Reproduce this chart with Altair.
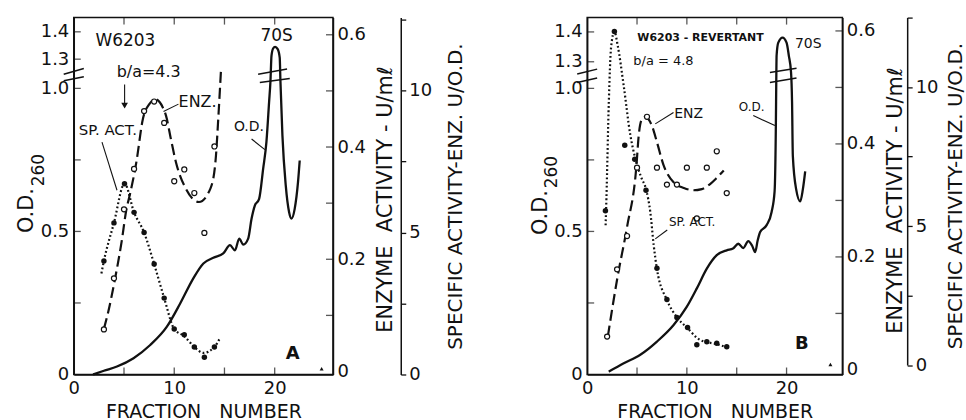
import altair as alt
import pandas as pd

FONT = "DejaVu Sans"
INK = "#111111"
H = 358
NB = "\u00a0"

# ================= Panel A : W6203 =================
a_od_f = [1.92, 3.0, 4.3, 5.95, 7.61, 9.27, 10.59, 11.9, 12.9, 13.89, 14.88, 15.55, 16.04, 16.47,
          16.87, 17.36, 17.7, 18.03, 18.45, 18.85, 19.18, 19.44, 19.58, 19.68, 19.84, 20.04, 20.3,
          20.5, 20.57, 20.77, 21.1, 21.43, 21.67, 21.99, 22.32, 22.49]
a_od_v = [0.0, 0.013, 0.028, 0.057, 0.103, 0.167, 0.248, 0.336, 0.388, 0.408, 0.423, 0.452, 0.434,
          0.475, 0.454, 0.475, 0.545, 0.591, 0.614, 0.719, 0.814, 0.951, 1.079, 1.312, 1.339, 1.345,
          1.337, 1.306, 1.079, 0.835, 0.661, 0.568, 0.545, 0.579, 0.672, 0.748]

a_enz_pf = [3, 4, 5, 6, 7, 8, 9, 10, 11, 12, 13, 14]
a_enz_pv = [0.075, 0.166, 0.289, 0.361, 0.464, 0.481, 0.443, 0.339, 0.36, 0.318, 0.247, 0.401]
a_enz_cf = [3.0, 3.44, 4.05, 4.76, 5.25, 5.57, 6.23, 6.88, 7.54, 8.1, 8.85, 9.18, 9.67, 10.17,
            11.15, 12.46, 13.6, 14.1, 14.42, 14.65]
a_enz_cv = [0.076, 0.107, 0.16, 0.231, 0.29, 0.314, 0.373, 0.45, 0.477, 0.485, 0.471, 0.456, 0.414,
            0.373, 0.326, 0.302, 0.326, 0.373, 0.462, 0.536]

a_sp_pf = [3, 4, 5.05, 6, 7, 8, 9, 10, 11, 12, 13, 14]
a_sp_pv = [4.0, 5.34, 6.72, 5.71, 5.0, 3.89, 2.69, 1.6, 1.40, 0.97, 0.61, 0.97]
a_sp_cf = [2.75, 3.0, 4.0, 5.05, 6.0, 7.0, 8.0, 9.0, 10.0, 11.0, 12.0, 12.9, 14.0, 14.55]
a_sp_cv = [3.56, 4.0, 5.34, 6.72, 5.71, 5.0, 3.89, 2.69, 1.6, 1.35, 0.97, 0.76, 0.97, 1.28]

a_labels = ["W6203", "b/a=4.3", "70S", "ENZ.", "SP. ACT.", "O.D.", "A"]
a_label_f = [5.13, 7.46, 20.2, 12.32, 3.39, 17.43, 21.8]
a_label_v = [1.368, 1.164, 1.386, 0.951, 0.853, 0.864, 0.073]

a_lead_f1 = [10.42, 2.81, 17.7, 5.06]
a_lead_v1 = [0.945, 0.812, 0.823, 1.041]
a_lead_f2 = [8.93, 4.3, 19.02, 5.06]
a_lead_v2 = [0.919, 0.644, 0.786, 0.935]
a_head_f = [5.06]
a_head_v = [0.94]
a_end_f = [24.67]
a_end_v = [0.02]

a_brk_f1 = [-1.0, -1.0, 18.35, 18.52]
a_brk_f2 = [1.0, 1.0, 21.23, 21.5]
a_brk_v1 = [1.146, 1.079, 1.146, 1.061]
a_brk_v2 = [1.205, 1.12, 1.198, 1.102]

# ================= Panel B : W6203 - revertant =================
b_od_f = [2.17, 3.67, 5.33, 7.0, 8.67, 10.0, 11.0, 12.0, 13.0, 14.0, 14.63, 15.16, 15.66, 16.16,
          16.55, 16.85, 17.1, 17.35, 18.0, 18.5, 18.8, 18.93, 18.97, 19.0, 19.17, 19.6, 20.0, 20.23,
          20.45, 20.55, 20.63, 20.97, 21.37, 21.63, 21.87]
b_od_v = [0.01, 0.039, 0.069, 0.115, 0.173, 0.237, 0.301, 0.37, 0.417, 0.434, 0.44, 0.457, 0.442,
          0.466, 0.45, 0.428, 0.468, 0.498, 0.522, 0.568, 0.64, 0.88, 1.10, 1.32, 1.364, 1.381,
          1.364, 1.32, 1.18, 0.955, 0.764, 0.646, 0.605, 0.646, 0.71]

b_enz_pf = [2, 3, 4, 5, 6, 7, 8, 9, 10, 11, 12, 13, 14]
b_enz_pv = [0.059, 0.178, 0.237, 0.358, 0.448, 0.358, 0.328, 0.328, 0.358, 0.268, 0.358, 0.387, 0.313]
b_enz_cf = [2.07, 3.05, 4.0, 4.93, 5.17, 5.5, 5.83, 6.5, 7.0, 7.67, 8.67, 9.7, 10.67, 11.5, 12.33,
            13.0, 13.7]
b_enz_cv = [0.059, 0.165, 0.253, 0.359, 0.415, 0.444, 0.448, 0.432, 0.403, 0.362, 0.332, 0.322,
            0.318, 0.32, 0.329, 0.34, 0.353]

b_sp_pf = [1.83, 2.73, 3.77, 4.77, 5.9, 7.0, 8.0, 9.0, 10.07, 11.0, 12.0, 13.0, 14.0]
b_sp_pv = [5.55, 12.0, 7.91, 7.40, 6.29, 3.48, 2.36, 1.71, 1.35, 0.73, 0.84, 0.78, 0.66]
b_sp_cf = [1.85, 1.93, 2.17, 2.4, 2.73, 3.06, 3.66, 4.33, 4.83, 5.4, 5.93, 6.33, 6.67, 7.0, 8.0,
           9.0, 10.0, 11.33, 13.0, 14.0]
b_sp_cv = [5.03, 5.99, 9.46, 11.44, 12.0, 11.5, 10.06, 8.27, 7.43, 6.77, 6.29, 5.51, 4.32, 3.45,
           2.34, 1.72, 1.35, 0.9, 0.75, 0.64]

b_labels = ["W6203 - REVERTANT", "b/a = 4.8", "70S", "ENZ", "O.D.", "SP. ACT.", "B"]
b_label_f = [5.03, 4.63, 22.18, 10.18, 16.5, 10.53, 21.53]
b_label_v = [1.378, 1.304, 1.358, 0.909, 0.934, 0.533, 0.108]

b_lead_f1 = [8.66, 16.66, 8.03]
b_lead_v1 = [0.916, 0.905, 0.505]
b_lead_f2 = [6.83, 18.83, 6.83]
b_lead_v2 = [0.876, 0.870, 0.474]
b_head_f = []
b_head_v = []
b_end_f = [24.4]
b_end_v = [0.035]

b_brk_f1 = [-1.0, -1.0, 18.33, 18.33]
b_brk_f2 = [1.0, 1.0, 21.0, 21.0]
b_brk_v1 = [1.161, 1.067, 1.18, 1.067]
b_brk_v2 = [1.217, 1.116, 1.228, 1.116]

# axis tick values
od_labeled = [0, 0.5, 1.0, 1.3, 1.4]
od_inner_ticks = [0.25, 0.5, 0.75, 1.0, 1.3, 1.4]
x_labeled = [0, 10, 20]
x_inner_ticks = [5, 10, 15, 20]
enz_labeled = [0, 0.2, 0.4, 0.6]
enz_inner_ticks = [0.1, 0.2, 0.3, 0.4, 0.5, 0.6]
sp_ticks = [0, 2.5, 5, 7.5, 10, 12.5]

# label styles (size, weight, align)
STYLE_A = {"W6203": (17, "normal", "center"), "b/a=4.3": (16, "normal", "center"),
           "70S": (17, "normal", "center"), "ENZ.": (16, "normal", "center"),
           "SP. ACT.": (15, "normal", "center"), "O.D.": (14, "normal", "center"),
           "A": (18, "bold", "center")}
STYLE_B = {"W6203 - REVERTANT": (11, "bold", "left"), "b/a = 4.8": (13, "normal", "left"),
           "70S": (14, "normal", "center"), "ENZ": (14, "normal", "center"),
           "O.D.": (12, "normal", "center"), "SP. ACT.": (12, "normal", "center"),
           "B": (18, "bold", "center")}


def build(p):
    W = p["W"]

    def xs():
        return alt.Scale(domain=[0, p["xmax"]], nice=False, zero=False)

    def ods():
        return alt.Scale(domain=p["od_domain"], range=p["od_range"], nice=False, zero=False)

    def ens():
        return alt.Scale(domain=p["enz_domain"], nice=False, zero=False)

    def sps():
        return alt.Scale(domain=p["sp_domain"], range=p["sp_range"], nice=False, zero=False)

    def X(field="f", ax=None):
        # shared x axis: only the first layer defines it, the others leave it undefined
        if ax is None:
            return alt.X(f"{field}:Q", scale=xs())
        return alt.X(f"{field}:Q", scale=xs(), axis=ax)

    def YOD(ax=None, field="v"):
        return alt.Y(f"{field}:Q", scale=ods(), axis=ax)

    x_axis = alt.Axis(values=x_labeled, format="d", tickSize=0, labelPadding=5, labelFontSize=18,
                      labelFlush=False, title=f"FRACTION{NB}{NB}{NB}NUMBER", titleFontSize=19,
                      titleBaseline="alphabetic", titleY=43)
    od_axis = alt.Axis(values=od_labeled,
                       labelExpr="datum.value == 0 ? '0' : format(datum.value, '.1f')",
                       tickSize=0, labelPadding=5, labelFontSize=18, title="O.D.",
                       titleFontSize=21, titleAngle=270, titleX=-37, titleY=p["od_title_y"],
                       titleBaseline="bottom", titleAlign="center")
    enz_axis = alt.Axis(orient="right", values=enz_labeled,
                        labelExpr="datum.value == 0 ? '0' : format(datum.value, '.1f')",
                        tickSize=0, labelPadding=4, labelFontSize=18,
                        title=f"ENZYME{NB}{NB}ACTIVITY{NB}-{NB}U/m\u2113", titleFontSize=21,
                        titleAngle=270, titleX=63, titleY=p["enz_title_y"],
                        titleBaseline="bottom", titleAlign="center")
    sp_axis = alt.Axis(orient="right", offset=p["sp_offset"], values=sp_ticks,
                       labelExpr="(datum.value == 0 || datum.value == 5 || datum.value == 10) ? format(datum.value, 'd') : ''",
                       tickSize=5, labelPadding=3, labelFontSize=18,
                       title="SPECIFIC ACTIVITY-ENZ. U/O.D.", titleFontSize=20, titleAngle=270,
                       titleX=p["sp_title_x"], titleY=p["sp_title_y"], titleBaseline="bottom",
                       titleAlign="center")

    layers = []
    # O.D. profile (carries x axis and left axis)
    layers.append(alt.Chart(pd.DataFrame({"f": p["od_f"], "v": p["od_v"]})).mark_line(
        color=INK, strokeWidth=2.3, interpolate="monotone").encode(
        x=X(ax=x_axis), y=YOD(od_axis)))
    # enzyme curve (right axis)
    layers.append(alt.Chart(pd.DataFrame({"f": p["enz_cf"], "v": p["enz_cv"]})).mark_line(
        color=INK, strokeWidth=2.2, strokeDash=[11, 5], interpolate="monotone").encode(
        x=X(), y=alt.Y("v:Q", scale=ens(), axis=enz_axis)))
    # specific activity curve (outer right axis)
    layers.append(alt.Chart(pd.DataFrame({"f": p["sp_cf"], "v": p["sp_cv"]})).mark_line(
        color=INK, strokeWidth=2.2, strokeDash=[1.8, 2.4], interpolate="monotone").encode(
        x=X(), y=alt.Y("v:Q", scale=sps(), axis=sp_axis)))

    # inward ticks
    layers.append(alt.Chart(pd.DataFrame({"v": od_inner_ticks})).mark_tick(
        color=INK, size=7, thickness=1.3).encode(y=YOD(), x=alt.value(3.5)))
    layers.append(alt.Chart(pd.DataFrame({"v": enz_inner_ticks})).mark_tick(
        color=INK, size=7, thickness=1.3).encode(
        y=alt.Y("v:Q", scale=ens(), axis=None), x=alt.value(W - 3.5)))
    layers.append(alt.Chart(pd.DataFrame({"f": x_inner_ticks})).mark_tick(
        color=INK, size=7, thickness=1.3).encode(x=X(), y=alt.value(H - 3.5)))
    layers.append(alt.Chart(pd.DataFrame({"f": x_inner_ticks})).mark_tick(
        color=INK, size=7, thickness=1.3).encode(x=X(), y=alt.value(3.5)))

    # axis-break slashes and leader lines
    for f1, f2, v1, v2, sw in ((p["brk_f1"], p["brk_f2"], p["brk_v1"], p["brk_v2"], 1.5),
                               (p["lead_f1"], p["lead_f2"], p["lead_v1"], p["lead_v2"], 1.1)):
        layers.append(alt.Chart(pd.DataFrame({"f": f1, "f2": f2, "v1": v1, "v2": v2})).mark_rule(
            color=INK, strokeWidth=sw).encode(
            x=X(), x2="f2:Q",
            y=alt.Y("v1:Q", scale=ods(), axis=None), y2="v2:Q"))
    if p["head_f"]:
        layers.append(alt.Chart(pd.DataFrame({"f": p["head_f"], "v": p["head_v"]})).mark_point(
            shape="triangle-down", filled=True, color=INK, size=45, opacity=1).encode(
            x=X(), y=YOD()))
    layers.append(alt.Chart(pd.DataFrame({"f": p["end_f"], "v": p["end_v"]})).mark_point(
        shape="triangle-up", filled=True, color=INK, size=16, opacity=1).encode(x=X(), y=YOD()))

    # data points
    layers.append(alt.Chart(pd.DataFrame({"f": p["enz_pf"], "v": p["enz_pv"]})).mark_point(
        shape="circle", filled=True, fill="white", stroke=INK, strokeWidth=1.2, size=26,
        opacity=1).encode(x=X(), y=alt.Y("v:Q", scale=ens(), axis=None)))
    layers.append(alt.Chart(pd.DataFrame({"f": p["sp_pf"], "v": p["sp_pv"]})).mark_circle(
        color=INK, size=30, opacity=1).encode(x=X(), y=alt.Y("v:Q", scale=sps(), axis=None)))

    # annotations
    for lab, f, v in zip(p["labels"], p["label_f"], p["label_v"]):
        size, weight, align = p["style"][lab]
        layers.append(alt.Chart(pd.DataFrame({"f": [f], "v": [v], "t": [lab]})).mark_text(
            font=FONT, fontSize=size, fontWeight=weight, align=align, baseline="middle",
            color=INK).encode(x=X(), y=YOD(), text="t:N"))
    layers.append(alt.Chart(pd.DataFrame({"t": ["260"]})).mark_text(
        font=FONT, fontSize=17, angle=270, align="center", baseline="alphabetic",
        color=INK).encode(text="t:N", x=alt.value(p["sub_x"]), y=alt.value(p["sub_y"])))

    return alt.layer(*layers).resolve_scale(y="independent").properties(width=W, height=H)


panel_a = build(dict(
    W=260, xmax=25.8,
    od_domain=[0, 1.0, 1.3, 1.452], od_range=[H, 71, 41.7, 0],
    enz_domain=[-0.0053, 0.6306], sp_domain=[0, 12.57], sp_range=[H, 0],
    od_title_y=193, enz_title_y=182, sp_title_y=179, sp_offset=68, sp_title_x=65,
    sub_x=-30, sub_y=153,
    od_f=a_od_f, od_v=a_od_v, enz_pf=a_enz_pf, enz_pv=a_enz_pv, enz_cf=a_enz_cf, enz_cv=a_enz_cv,
    sp_pf=a_sp_pf, sp_pv=a_sp_pv, sp_cf=a_sp_cf, sp_cv=a_sp_cv,
    labels=a_labels, label_f=a_label_f, label_v=a_label_v, style=STYLE_A,
    lead_f1=a_lead_f1, lead_f2=a_lead_f2, lead_v1=a_lead_v1, lead_v2=a_lead_v2,
    head_f=a_head_f, head_v=a_head_v, end_f=a_end_f, end_v=a_end_v,
    brk_f1=a_brk_f1, brk_f2=a_brk_f2, brk_v1=a_brk_v1, brk_v2=a_brk_v2,
))

panel_b = build(dict(
    W=256, xmax=25.6,
    od_domain=[0, 1.0, 1.3, 1.448], od_range=[H, 71, 44.3, 0],
    enz_domain=[-0.0081, 0.6236], sp_domain=[0, 12.5], sp_range=[348.5, 0],
    od_title_y=195, enz_title_y=183, sp_title_y=178.5, sp_offset=65, sp_title_x=58,
    sub_x=-30, sub_y=155,
    od_f=b_od_f, od_v=b_od_v, enz_pf=b_enz_pf, enz_pv=b_enz_pv, enz_cf=b_enz_cf, enz_cv=b_enz_cv,
    sp_pf=b_sp_pf, sp_pv=b_sp_pv, sp_cf=b_sp_cf, sp_cv=b_sp_cv,
    labels=b_labels, label_f=b_label_f, label_v=b_label_v, style=STYLE_B,
    lead_f1=b_lead_f1, lead_f2=b_lead_f2, lead_v1=b_lead_v1, lead_v2=b_lead_v2,
    head_f=b_head_f, head_v=b_head_v, end_f=b_end_f, end_v=b_end_v,
    brk_f1=b_brk_f1, brk_f2=b_brk_f2, brk_v1=b_brk_v1, brk_v2=b_brk_v2,
))

chart = alt.hconcat(panel_a, panel_b, spacing=62).properties(
    padding={"left": 15, "top": 15, "right": 0, "bottom": 0},
    background="white",
).configure_view(stroke=INK, strokeWidth=1.5).configure_axis(
    grid=False, domainColor=INK, domainWidth=1.5, tickColor=INK, tickWidth=1.3, labelColor=INK,
    titleColor=INK, labelFont=FONT, titleFont=FONT, titleFontWeight="normal",
)

chart.save("out.html", embed_options={"renderer": "svg", "actions": False})
